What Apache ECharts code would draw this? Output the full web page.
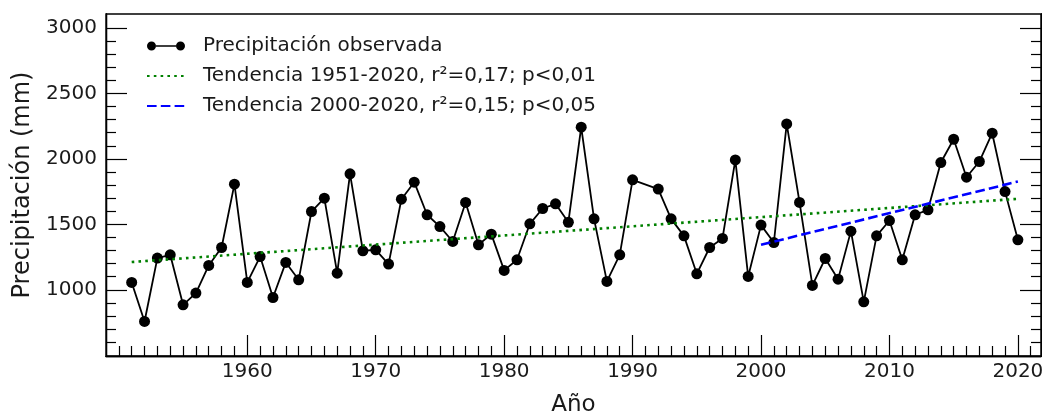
<!DOCTYPE html>
<html>
<head>
<meta charset="utf-8">
<script src="https://cdn.jsdelivr.net/npm/echarts@6/dist/echarts.min.js"></script>
<style>
html,body{margin:0;padding:0;background:#fff;}
#chart{width:1042px;height:414px;}
</style>
</head>
<body>
<div id="chart"></div>
<script>
// ---- Data ----
var years = [1951,1952,1953,1954,1955,1956,1957,1958,1959,1960,
             1961,1962,1963,1964,1965,1966,1967,1968,1969,1970,
             1971,1972,1973,1974,1975,1976,1977,1978,1979,1980,
             1981,1982,1983,1984,1985,1986,1987,1988,1989,1990,
             1992,1993,1994,1995,1996,1997,1998,1999,2000,
             2001,2002,2003,2004,2005,2006,2007,2008,2009,2010,
             2011,2012,2013,2014,2015,2016,2017,2018,2019,2020];
var precip = [1056,758,1242,1267,885,975,1186,1323,1807,1056,
              1254,941,1209,1076,1598,1700,1127,1886,1298,1305,
              1196,1692,1822,1573,1483,1369,1667,1344,1425,1148,
              1229,1504,1621,1657,1516,2242,1542,1064,1267,1840,
              1769,1542,1412,1122,1323,1392,1992,1102,1494,
              1361,2267,1667,1033,1239,1081,1448,908,1412,1529,
              1229,1573,1611,1972,2150,1860,1980,2196,1750,1382];
var trend1Years = [1951, 2020];
var trend1Values = [1212, 1695];
var trend2Years = [2000, 2020];
var trend2Values = [1344, 1827];
var xMajorTicks = [1960,1970,1980,1990,2000,2010,2020];
var xMinorTicks = [1950,1951,1952,1953,1954,1955,1956,1957,1958,1959,1961,1962,1963,1964,1965,1966,1967,1968,1969,
  1971,1972,1973,1974,1975,1976,1977,1978,1979,1981,1982,1983,1984,1985,1986,1987,1988,1989,
  1991,1992,1993,1994,1995,1996,1997,1998,1999,2001,2002,2003,2004,2005,2006,2007,2008,2009,
  2011,2012,2013,2014,2015,2016,2017,2018,2019,2021];
var yMajorTicks = [1000,1500,2000,2500,3000];
var yMinorTicks = [600,700,800,900,1100,1200,1300,1400,1600,1700,1800,1900,2100,2200,2300,2400,2600,2700,2800,2900];
var legendNames = ['Precipitación observada',
                   'Tendencia 1951-2020, r²=0,17; p<0,01',
                   'Tendencia 2000-2020, r²=0,15; p<0,05'];
var xTitle = 'Año';
var yTitle = 'Precipitación (mm)';

// ---- Build ----
function pairs(xs, ys){ return xs.map(function(x,i){ return [x, ys[i]]; }); }
function plain(v){ return String(v); }

var FONT = 'DejaVu Sans';
var X_MIN = 1949, X_MAX = 2021.8, Y_MIN = 494, Y_MAX = 3107;

function xAxisDef(ticks, len, showLabel, extra){
  var a = {
    type: 'value', gridIndex: 0, position: 'bottom', min: X_MIN, max: X_MAX,
    axisLine: {show: true, onZero: false, lineStyle: {color: '#000', width: 1.3}},
    axisTick: {show: true, inside: true, length: len, customValues: ticks, lineStyle: {color: '#000', width: 1.2}},
    axisLabel: {show: showLabel, customValues: ticks, formatter: plain, margin: 6, fontSize: 20, fontFamily: FONT, color: '#1a1a1a'},
    splitLine: {show: false}
  };
  for (var k in extra) a[k] = extra[k];
  return a;
}
function yAxisDef(pos, ticks, len, showLabel, extra){
  var a = {
    type: 'value', gridIndex: 0, position: pos, min: Y_MIN, max: Y_MAX,
    axisLine: {show: true, onZero: false, lineStyle: {color: '#000', width: 1.3}},
    axisTick: {show: true, inside: true, length: len, customValues: ticks, lineStyle: {color: '#000', width: 1.2}},
    axisLabel: {show: showLabel, customValues: ticks, formatter: plain, margin: 9, fontSize: 20, fontFamily: FONT, color: '#1a1a1a'},
    splitLine: {show: false}
  };
  for (var k in extra) a[k] = extra[k];
  return a;
}

var chart = echarts.init(document.getElementById('chart'), null, {renderer: 'canvas'});
chart.setOption({
  animation: false,
  backgroundColor: '#fff',
  textStyle: {fontFamily: FONT},
  grid: {left: 106, top: 14, width: 935, height: 342, containLabel: false, outerBoundsMode: 'none',
         show: true, borderColor: '#000', borderWidth: 1.3, backgroundColor: 'transparent'},
  xAxis: [
    xAxisDef(xMajorTicks, 21, true, {
      name: xTitle, nameLocation: 'middle', nameGap: 38,
      nameTextStyle: {fontSize: 23, fontFamily: FONT, color: '#1a1a1a'}
    }),
    xAxisDef(xMinorTicks, 10, false, {})
  ],
  yAxis: [
    yAxisDef('left', yMajorTicks, 21, true, {
      name: yTitle, nameLocation: 'middle', nameRotate: 90, nameGap: 69,
      nameTextStyle: {fontSize: 24, fontFamily: FONT, color: '#1a1a1a'}
    }),
    yAxisDef('left', yMinorTicks, 10, false, {}),
    yAxisDef('right', yMajorTicks, 21, false, {}),
    yAxisDef('right', yMinorTicks, 10, false, {})
  ],
  legend: {
    orient: 'vertical', left: 146, top: 36, padding: 0, itemWidth: 38, itemHeight: 9, itemGap: 10,
    textStyle: {fontSize: 20, fontFamily: FONT, color: '#1a1a1a', lineHeight: 20, padding: [0,0,0,13]},
    data: [
      {name: legendNames[0], icon: 'path://M0,4.5a4.5,4.5 0 1,0 9,0a4.5,4.5 0 1,0 -9,0zM9,3.7h20v1.6h-20zM29,4.5a4.5,4.5 0 1,0 9,0a4.5,4.5 0 1,0 -9,0z'},
      {name: legendNames[1], itemStyle: {opacity: 0}},
      {name: legendNames[2], itemStyle: {opacity: 0}}
    ]
  },
  series: [
    {
      name: legendNames[0], type: 'line', xAxisIndex: 0, yAxisIndex: 0,
      data: pairs(years, precip),
      symbol: 'circle', symbolSize: 11, showSymbol: true,
      lineStyle: {color: '#000', width: 1.8},
      itemStyle: {color: '#000'},
      z: 3
    },
    {
      name: legendNames[1], type: 'line', xAxisIndex: 0, yAxisIndex: 0,
      data: pairs(trend1Years, trend1Values),
      symbol: 'none',
      lineStyle: {color: '#008000', width: 2.6, type: [2.6, 4.2], cap: 'butt'},
      itemStyle: {color: '#008000'},
      z: 4
    },
    {
      name: legendNames[2], type: 'line', xAxisIndex: 0, yAxisIndex: 0,
      data: pairs(trend2Years, trend2Values),
      symbol: 'none',
      lineStyle: {color: '#0000ff', width: 2.6, type: [9.6, 4.2], cap: 'butt'},
      itemStyle: {color: '#0000ff'},
      z: 4
    }
  ]
});
</script>
</body>
</html>
